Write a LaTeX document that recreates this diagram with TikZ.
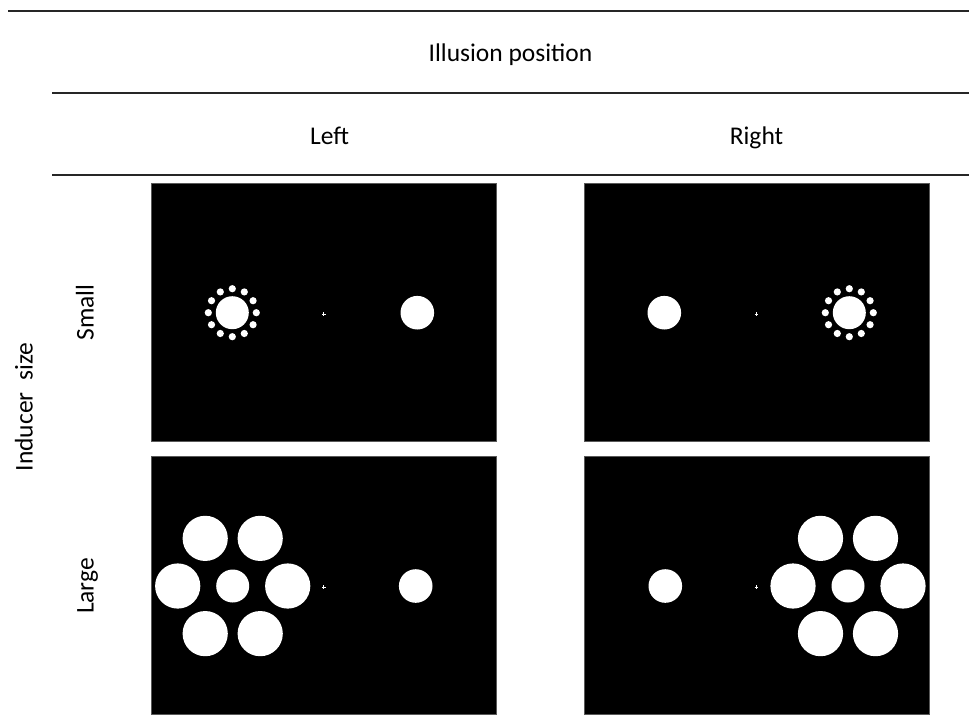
\documentclass[tikz,border=0pt]{standalone}
\usepackage{fontspec}
\setmainfont{Carlito}
\usetikzlibrary{calc}
\begin{document}
\begin{tikzpicture}[x=1pt,y=-1pt,
  rule/.style={line width=1.4pt,draw=black!85},
  panel/.style={fill=black,draw=black!65,line width=0.6pt},
  disc/.style={fill=white},
  lbl/.style={font=\fontsize{25.5}{30}\selectfont,anchor=base,inner sep=0pt},
  vlbl/.style={lbl,rotate=90}]
\useasboundingbox (0,0) rectangle (969,718);

% table rules
\draw[rule] (8,11) -- (969,11);
\draw[rule] (52,93) -- (969,93);
\draw[rule] (52,175) -- (969,175);

% headings
\node[lbl] (hdr) at (510.5,61) {Illusion position};
\node[lbl] (left) at (329.5,144.5) {Left};
\node[lbl] (right) at (756.5,144.5) {Right};
\node[vlbl] (ind) at (32.5,407) {Inducer\ \ size};
\node[vlbl] (small) at (93.5,312.5) {Small};
\node[vlbl] (large) at (93.5,586) {Large};

% stimulus panels
\draw[panel] (151.7,183.5) rectangle (496,441.5);
\draw[panel] (584,183.5) rectangle (929,441.5);
\draw[panel] (151.7,456) rectangle (496,714);
\draw[panel] (584,456) rectangle (929,714);

% Ebbinghaus configuration with small inducers
\newcommand{\smallring}[2]{%
  \fill[disc] (#1,#2) circle (16.5);
  \foreach \a in {0,30,...,330}
    \fill[disc] ($(#1,#2)+(\a:24)$) circle (3.6);
}
% Ebbinghaus configuration with large inducers
\newcommand{\largering}[2]{%
  \fill[disc] (#1,#2) circle (16.5);
  \foreach \a in {0,60,...,300}
    \fill[disc] ($(#1,#2)+(\a:55)$) circle (22.6);
}
% fixation cross
\newcommand{\fixcross}[2]{%
  \draw[white,line width=0.8pt] (#1-1.8,#2) -- (#1+1.8,#2) (#1,#2-1.8) -- (#1,#2+1.8);
}

% small inducers, illusion on the left
\smallring{232.3}{312.7}
\fill[disc] (417.3,312.7) circle (16.8);
\fixcross{323.8}{314}

% small inducers, illusion on the right
\fill[disc] (664.3,312.7) circle (16.8);
\smallring{849.3}{312.7}
\fixcross{756.5}{314}

% large inducers, illusion on the left
\largering{232.7}{586}
\fill[disc] (415.7,586) circle (16.8);
\fixcross{323.8}{587}

% large inducers, illusion on the right
\fill[disc] (665.3,586) circle (16.8);
\largering{848}{586}
\fixcross{756.5}{587}
\end{tikzpicture}
\end{document}
